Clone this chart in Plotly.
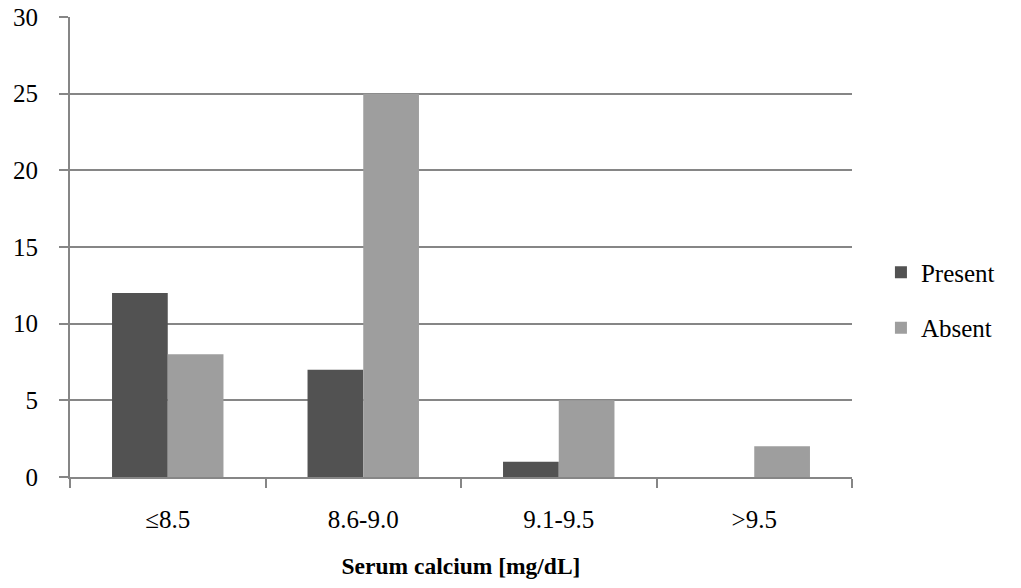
import plotly.graph_objects as go

categories = ["≤8.5", "8.6-9.0", "9.1-9.5", ">9.5"]
present = [12, 7, 1, 0]
absent = [8, 25, 5, 2]
y_ticks = [0, 5, 10, 15, 20, 25, 30]

fig = go.Figure()
fig.add_trace(go.Bar(x=categories, y=present, name="Present", legendgroup="p",
                     marker=dict(color="#525252", line=dict(width=0))))
fig.add_trace(go.Bar(x=categories, y=absent, name="Absent", legendgroup="a",
                     marker=dict(color="#9e9e9e", line=dict(width=0))))

font = "Liberation Serif, Times New Roman, serif"
fig.update_layout(
    width=1021, height=588,
    margin=dict(l=70, r=169, t=17, b=111, autoexpand=False),
    plot_bgcolor="white", paper_bgcolor="white",
    barmode="group", bargap=0.43, bargroupgap=0,
    font=dict(family=font, size=25, color="black"),
    legend=dict(x=1.037, y=0.385, xanchor="left", yanchor="middle",
                font=dict(size=25), tracegroupgap=20, itemwidth=30),
    xaxis=dict(
        title=dict(text="<b>Serum calcium [mg/dL]</b>", font=dict(size=23.5), standoff=26),
        showline=True, linecolor="#868686", linewidth=2,
        ticks="outside", tickson="boundaries", ticklen=9, tickcolor="#868686", tickwidth=2,
        showgrid=False, ticklabelstandoff=19, automargin=False,
    ),
    yaxis=dict(
        range=[0, 30], tickvals=y_ticks,
        showline=True, linecolor="#868686", linewidth=2,
        ticks="outside", ticklen=9, tickcolor="#868686", tickwidth=2,
        showgrid=True, gridcolor="#868686", gridwidth=1.5,
        zeroline=False, ticklabelstandoff=16, automargin=False,
    ),
)

fig.write_html("out.html")
